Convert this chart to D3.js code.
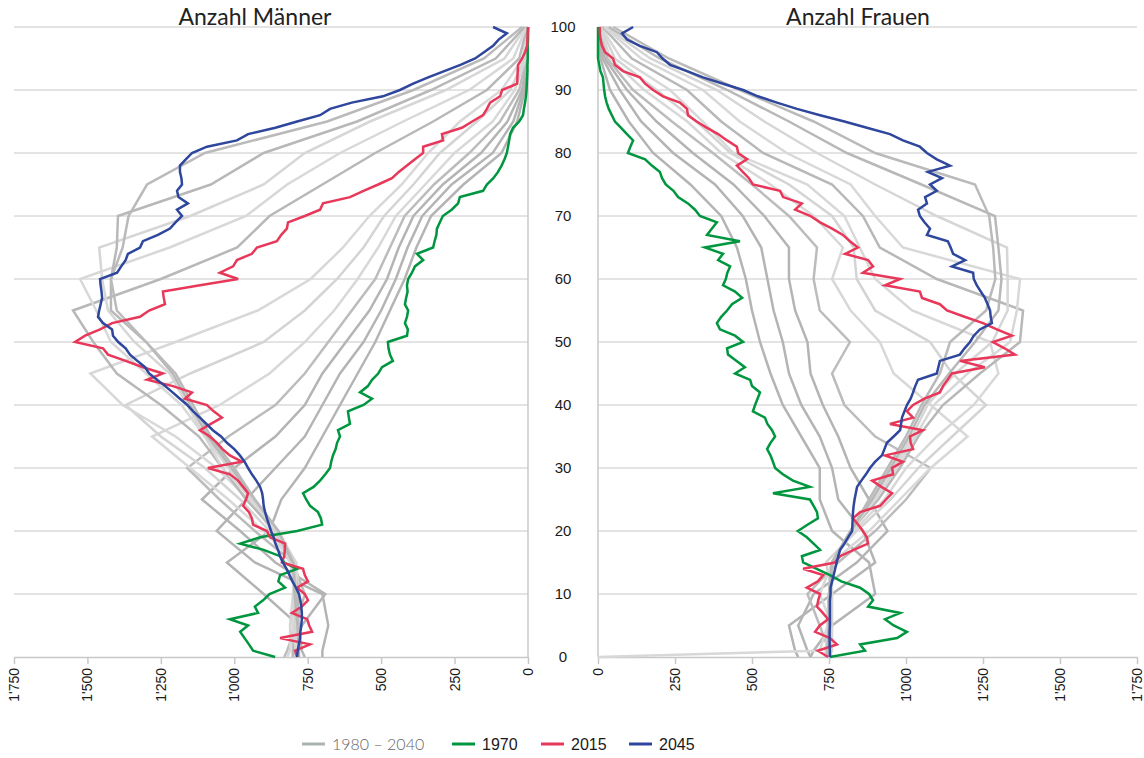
<!DOCTYPE html>
<html>
<head>
<meta charset="utf-8">
<script src="https://cdn.jsdelivr.net/npm/d3@7"></script>
<style>
  body { margin: 0; background: #fff; }
  svg text { font-family: "Liberation Sans", Arial, sans-serif; }
</style>
</head>
<body>
<svg id="chart" width="1144" height="758"></svg>
<script>
'use strict';

// age categories
var ages = d3.range(0, 101);
var greyAges = [0, 1, 5, 10, 15, 20, 25, 30, 35, 40, 45, 50, 55, 60, 65, 70, 75, 80, 85, 90, 95, 100];

// highlighted years, one value per age (0..100)
var men1970 = [861,936,950,965,980,953,1015,919,930,902, 880,827,850,844,786,830,844,900,980,912,
  786,701,705,715,742,755,766,730,708,690, 674,670,664,655,650,640,647,606,610,613,
  560,531,572,545,531,510,497,460,470,475, 477,412,409,419,412,408,419,415,410,412,
  408,395,385,357,378,323,318,312,310,300, 290,260,238,232,153,140,118,102,90,80,
  72,68,64,61,51,30,17,14,10,7, 5,4,3,2,2,1,1,1,0,0, 0];
var men2015 = [786,793,742,844,735,745,752,804,770,749, 760,786,749,760,766,838,830,828,827,878,
  889,936,940,950,970,960,953,970,987,1015, 1090,974,1015,1040,1059,1083,1117,1080,1042,1070,
  1093,1168,1144,1209,1297,1243,1311,1370,1430,1447, 1542,1508,1457,1416,1321,1290,1236,1240,1243,1117,
  987,1049,1004,991,940,923,855,840,821,817, 760,708,698,606,560,510,463,440,412,385,
  357,357,289,293,225,190,153,140,129,95, 88,37,36,35,34,20,10,3,2,1, 0];
var men2045 = [786,784,780,776,775,772,770,770,772,775, 780,790,802,812,822,835,844,851,860,866,
  875,882,889,895,900,902,905,912,925,940, 953,965,981,1000,1025,1045,1073,1095,1117,1140,
  1160,1185,1210,1235,1263,1290,1304,1330,1355,1370, 1395,1413,1416,1447,1464,1460,1455,1450,1452,1455,
  1457,1399,1385,1370,1362,1321,1311,1260,1219,1200, 1178,1195,1158,1190,1195,1178,1180,1185,1185,1165,
  1144,1093,991,953,860,786,708,674,600,494, 436,391,340,285,230,180,150,119,100,72, 119];

var women1970 = [753,867,851,971,1003,960,932,981,877,893, 880,851,790,753,710,666,662,721,700,678,
  649,680,714,711,700,688,568,688,633,600, 575,568,560,549,560,575,565,550,542,503,
  510,518,526,500,494,445,477,450,422,419, 471,445,396,386,400,419,435,468,445,406,
  415,420,429,390,406,347,461,354,370,386, 331,315,292,260,245,220,208,201,175,153,
  97,105,114,94,75,55,45,35,28,23, 20,18,16,8,4,0,0,0,0,0, 0];
var women2015 = [747,714,776,753,705,720,747,730,711,715, 721,678,714,731,666,769,786,830,877,873,
  860,845,828,851,916,935,955,920,890,958, 955,990,932,1023,1015,1013,1055,948,1023,1003,
  1023,1060,1110,1120,1135,1149,1256,1175,1354,1320, 1282,1344,1295,1250,1190,1133,1110,1052,1045,932,
  981,860,893,877,802,844,818,795,760,721, 690,640,662,601,591,503,490,470,451,484,
  455,451,419,390,354,320,292,289,266,211, 179,153,136,81,55,49,23,13,8,6, 6];
var women2045 = [753,753,752,752,752,753,753,753,753,753, 755,755,760,765,770,775,780,786,800,812,
  825,826,827,828,830,833,837,841,855,870, 883,900,922,930,938,960,981,984,987,995,
  1003,1015,1023,1030,1039,1100,1105,1110,1175,1190, 1208,1220,1240,1279,1275,1273,1265,1256,1243,1230,
  1220,1218,1149,1192,1153,1145,1136,1068,1078,1060, 1045,1039,1068,1062,1100,1078,1117,1071,1143,1100,
  1068,1045,990,948,873,800,721,646,581,519, 471,406,341,289,234,210,191,136,94,78, 114];

// grey years 1980 - 2040, values at greyAges
var greyYears = [1980, 1985, 1990, 1995, 2000, 2005, 2010, 2020, 2025, 2030, 2035, 2040];
var menGrey = [
  [760,770,780,900,1025,880,840,760,700,640,580,520,470,420,380,330,220,90,37,10,2,0],
  [700,700,680,700,930,1060,960,860,760,700,640,560,500,450,410,360,260,120,50,15,3,0],
  [800,800,770,690,860,980,1110,1000,860,760,700,620,540,480,440,390,290,160,70,20,4,0],
  [830,820,790,760,800,930,1050,1160,1020,860,760,680,600,520,470,420,320,200,95,30,6,0],
  [820,810,810,780,790,900,1020,1150,1280,1050,880,760,660,580,510,450,350,250,120,45,8,1],
  [800,800,810,800,790,880,980,1100,1250,1370,1150,900,760,650,560,490,390,300,174,60,12,1],
  [790,790,800,790,810,870,950,1060,1200,1380,1490,1200,920,740,630,540,430,340,232,90,18,2],
  [800,800,790,780,800,860,960,1040,1120,1250,1400,1480,1549,1250,990,880,700,520,323,140,30,3],
  [790,790,800,790,790,860,940,1040,1100,1180,1300,1420,1470,1525,1220,960,820,640,425,200,50,5],
  [785,785,790,800,790,850,940,1020,1100,1160,1220,1340,1430,1450,1460,1150,900,760,538,280,80,8],
  [780,780,785,795,800,850,930,1010,1090,1150,1210,1300,1420,1420,1400,1396,1080,900,582,330,110,12],
  [780,780,780,790,800,850,930,1000,1080,1140,1200,1300,1400,1420,1380,1360,1297,1100,684,390,150,20]
];
var womenGrey = [
  [690,700,760,900,880,760,720,720,660,600,560,526,500,480,451,400,300,179,100,39,8,1],
  [650,640,620,760,900,860,780,760,720,660,620,600,570,550,530,470,380,244,140,71,15,2],
  [690,680,650,700,840,940,880,820,780,730,690,680,640,620,620,540,440,308,190,94,22,3],
  [760,750,720,680,780,900,1000,1080,900,800,760,818,720,700,711,620,500,373,240,114,30,4],
  [750,760,760,720,760,880,980,1080,1200,1080,960,915,820,760,795,700,560,400,290,150,40,6],
  [760,750,760,760,740,840,950,1040,1150,1260,1150,1078,900,840,830,760,620,430,320,190,55,8],
  [750,745,750,760,760,830,930,1000,1100,1220,1300,1273,1020,900,850,800,680,440,340,234,75,10],
  [740,740,745,750,760,820,910,980,1040,1120,1240,1370,1380,1100,915,860,760,536,400,289,110,15],
  [0,720,745,750,760,820,900,970,1030,1090,1200,1338,1360,1370,990,900,820,613,460,341,140,20],
  [740,740,745,750,760,820,890,960,1020,1070,1160,1280,1330,1330,1328,1100,900,711,540,386,170,25],
  [745,745,750,750,760,820,890,950,1010,1060,1140,1224,1300,1310,1300,1289,1050,808,620,420,200,35],
  [745,745,750,750,760,820,880,940,1000,1050,1110,1143,1260,1290,1283,1270,1224,900,700,460,230,50]
];

var xTicks = [0, 250, 500, 750, 1000, 1250, 1500, 1750];
var yTicks = [0, 10, 20, 30, 40, 50, 60, 70, 80, 90, 100];

// styles
var greyShade = { 1980: '#b4b4b4', 1985: '#b4b4b4', 1990: '#b4b4b4', 1995: '#bcbcbc', 2000: '#d8d8d8',
  2005: '#d4d4d4', 2010: '#d8d8d8', 2020: '#b8b8b8', 2025: '#d8d8d8', 2030: '#d6d6d6', 2035: '#b8b8b8', 2040: '#bababa' };
var GREEN = '#00963f', RED = '#e8385a', BLUE = '#2e469c', GRID = '#c8c8c8';

function init() {
  var svg = d3.select('#chart');

  var y = d3.scaleLinear().domain([0, 100]).range([657, 27]);
  var xL = d3.scaleLinear().domain([0, 1750]).range([528, 14]);
  var xR = d3.scaleLinear().domain([0, 1750]).range([598, 1137]);

  var loc = d3.formatLocale({ decimal: '.', thousands: "'", grouping: [3], currency: ['', ''] });
  var fmt = loc.format(',');

  drawPanel(svg, xL, y, fmt, menGrey, men1970, men2015, men2045, [14, 528], 528);
  drawPanel(svg, xR, y, fmt, womenGrey, women1970, women2015, women2045, [598, 1137], 598);

  // age labels in the middle
  svg.append('g').selectAll('text')
    .data(yTicks)
    .enter()
    .append('text')
    .attr('x', 563)
    .attr('y', function(d) { return y(d); })
    .attr('dy', '0.35em')
    .attr('text-anchor', 'middle')
    .attr('font-size', 15)
    .attr('fill', '#1a1a1a')
    .text(function(d) { return d; });

  // titles
  svg.append('text').attr('x', 255).attr('y', 25).attr('text-anchor', 'middle')
    .style('font-family', 'Lato, "Open Sans", sans-serif').attr('font-size', 23).attr('fill', '#222')
    .text('Anzahl Männer');
  svg.append('text').attr('x', 858).attr('y', 25).attr('text-anchor', 'middle')
    .style('font-family', 'Lato, "Open Sans", sans-serif').attr('font-size', 23).attr('fill', '#222')
    .text('Anzahl Frauen');

  // legend
  var legend = [
    { label: '1980 – 2040', color: '#adb2b2', x: 302, light: true },
    { label: '1970', color: GREEN, x: 452 },
    { label: '2015', color: RED, x: 541 },
    { label: '2045', color: BLUE, x: 629 }
  ];
  var lg = svg.append('g').selectAll('g')
    .data(legend)
    .enter()
    .append('g')
    .attr('transform', function(d) { return 'translate(' + d.x + ',744)'; });
  lg.append('line').attr('x1', 0).attr('x2', 23).attr('y1', 0).attr('y2', 0)
    .attr('stroke', function(d) { return d.color; }).attr('stroke-width', 3);
  lg.append('text').attr('x', 30).attr('y', 0).attr('dy', '0.35em')
    .attr('font-size', 16)
    .style('font-family', function(d) { return d.light ? 'Lato, sans-serif' : null; })
    .style('font-weight', function(d) { return d.light ? 300 : null; })
    .attr('fill', function(d) { return d.light ? '#666' : '#1a1a1a'; })
    .text(function(d) { return d.label; });
}

function drawPanel(svg, x, y, fmt, grey, s1970, s2015, s2045, span, edge) {
  var g = svg.append('g');

  // horizontal grid
  g.selectAll('line.grid')
    .data(yTicks.slice(1))
    .enter()
    .append('line')
    .attr('class', 'grid')
    .attr('x1', span[0]).attr('x2', span[1])
    .attr('y1', function(d) { return y(d); })
    .attr('y2', function(d) { return y(d); })
    .attr('stroke', GRID).attr('stroke-width', 1);

  // vertical axis line at value 0
  g.append('line')
    .attr('x1', edge).attr('x2', edge)
    .attr('y1', y(100)).attr('y2', y(0))
    .attr('stroke', GRID).attr('stroke-width', 1.5);

  // bottom axis
  var axis = g.append('g')
    .attr('transform', 'translate(0,' + y(0) + ')')
    .call(d3.axisBottom(x).tickValues(xTicks).tickFormat(fmt).tickSize(7).tickSizeOuter(0));
  axis.select('.domain').attr('stroke', GRID).attr('stroke-width', 1.5);
  axis.selectAll('.tick line').attr('stroke', GRID).attr('stroke-width', 1.5);
  axis.selectAll('.tick text')
    .attr('transform', 'rotate(-90)')
    .attr('text-anchor', 'end')
    .attr('x', -11)
    .attr('y', 0)
    .attr('dy', '0.32em')
    .attr('font-size', 14)
    .attr('fill', '#1a1a1a')
    .style('font-family', '"Liberation Sans", Arial, sans-serif');

  var lineGrey = d3.line()
    .x(function(d) { return x(d); })
    .y(function(d, i) { return y(greyAges[i]); });
  var lineYear = d3.line()
    .x(function(d) { return x(d); })
    .y(function(d, i) { return y(ages[i]); });

  g.selectAll('path.grey')
    .data(grey)
    .enter()
    .append('path')
    .attr('class', 'grey')
    .attr('d', lineGrey)
    .attr('fill', 'none')
    .attr('stroke', function(d, i) { return greyShade[greyYears[i]]; })
    .attr('stroke-width', 2.5)
    .attr('stroke-linejoin', 'miter');

  [[s1970, GREEN], [s2015, RED], [s2045, BLUE]].forEach(function(s) {
    g.append('path')
      .attr('d', lineYear(s[0]))
      .attr('fill', 'none')
      .attr('stroke', s[1])
      .attr('stroke-width', 2.5)
      .attr('stroke-linejoin', 'miter');
  });
}

init();
</script>
</body>
</html>
